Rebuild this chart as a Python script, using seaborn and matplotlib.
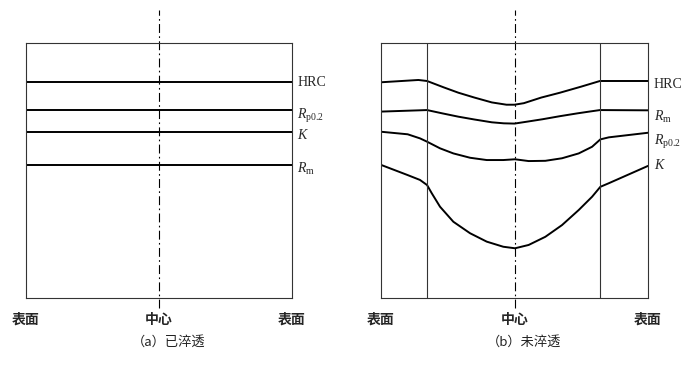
import matplotlib
matplotlib.use("Agg")
import matplotlib.pyplot as plt
import seaborn as sns
import pandas as pd

sns.set_theme(style="white")
plt.rcParams['font.family'] = ['Noto Sans CJK SC', 'DejaVu Sans']
plt.rcParams['mathtext.fontset'] = 'custom'
plt.rcParams['mathtext.rm'] = 'Liberation Serif'
plt.rcParams['mathtext.it'] = 'Liberation Serif:italic'

# ---- data ----
# (a) fully hardened: constant levels across section
left_names = ["HRC", "Rp0.2", "K", "Rm"]
left_levels = [84.7, 73.7, 65.1, 52.2]

# (b) not fully hardened
hrc_x = [-1, -0.72, -0.655, -0.53, -0.42, -0.30, -0.17, -0.06, 0, 0.07, 0.20, 0.34, 0.50, 0.64, 1]
hrc_y = [84.6, 85.5, 85.1, 82.6, 80.5, 78.6, 76.7, 75.8, 75.8, 76.4, 78.6, 80.5, 82.9, 85.1, 85.1]

rm_x = [-1, -0.655, -0.54, -0.42, -0.30, -0.17, -0.08, 0, 0.10, 0.21, 0.34, 0.47, 0.56, 0.64, 1]
rm_y = [73.1, 73.7, 72.4, 71.1, 70.0, 68.9, 68.5, 68.4, 69.2, 70.1, 71.3, 72.4, 73.1, 73.7, 73.6]

rp_x = [-1, -0.80, -0.708, -0.655, -0.558, -0.458, -0.333, -0.208, -0.084, 0.004,
        0.106, 0.231, 0.356, 0.481, 0.581, 0.643, 0.706, 1]
rp_y = [65.2, 64.2, 62.6, 61.3, 58.7, 56.7, 55.0, 54.1, 54.1, 54.4,
        53.7, 53.8, 54.8, 56.7, 59.3, 62.2, 63.0, 64.8]

k_x = [-1, -0.80, -0.708, -0.655, -0.620, -0.558, -0.458, -0.333, -0.208, -0.084, 0.004,
       0.106, 0.231, 0.356, 0.481, 0.581, 0.643, 0.706, 1]
k_y = [52.2, 48.2, 46.3, 44.3, 41.1, 35.8, 29.9, 25.4, 22.1, 20.1, 19.5,
       20.8, 24.0, 28.6, 34.5, 39.7, 43.6, 45.0, 51.8]

boundary_x = [-0.655, 0.643]

x_ticks = [-1, 0, 1]
x_labels = ["表面", "中心", "表面"]
captions = ["（a）已淬透", "（b）未淬透"]

# labels
left_label_text = ["HRC", r"$\mathit{R}_{\mathrm{p0.2}}$", r"$\mathit{K}$", r"$\mathit{R}_{\mathrm{m}}$"]
left_label_y = [84.7, 71.2, 64.0, 50.6]
right_label_text = ["HRC", r"$\mathit{R}_{\mathrm{m}}$", r"$\mathit{R}_{\mathrm{p0.2}}$", r"$\mathit{K}$"]
right_label_y = [83.7, 71.0, 61.0, 52.0]

# ---- figure ----
W, H = 6.9, 3.66
fig = plt.figure(figsize=(W, H), dpi=100)
axL = fig.add_axes([26/690, 1-298/366, 266/690, 255/366])
axR = fig.add_axes([381/690, 1-298/366, 267/690, 255/366])

lw_curve = 1.4
lw_frame = 0.8
frame_color = "#333333"

for name, lvl in zip(left_names, left_levels):
    df = pd.DataFrame({"x": [-1, 1], "y": [lvl, lvl]})
    sns.lineplot(data=df, x="x", y="y", ax=axL, color="black", lw=lw_curve, estimator=None)

for xs, ys in [(hrc_x, hrc_y), (rm_x, rm_y), (rp_x, rp_y), (k_x, k_y)]:
    df = pd.DataFrame({"x": xs, "y": ys})
    sns.lineplot(data=df, x="x", y="y", ax=axR, color="black", lw=lw_curve, estimator=None, sort=False)

for bx in boundary_x:
    axR.axvline(bx, color=frame_color, lw=lw_frame)

for ax, cap in zip([axL, axR], captions):
    ax.set_xlim(-1, 1)
    ax.set_ylim(0, 100)
    ax.set_xlabel("")
    ax.set_ylabel("")
    ax.set_xticks([])
    ax.set_yticks([])
    for s in ax.spines.values():
        s.set_visible(True)
        s.set_color(frame_color)
        s.set_linewidth(lw_frame)
    # center dash-dot line extending beyond frame
    ax.plot([0, 0], [-3.9, 112.9], color="black", lw=0.8, ls=(0, (8, 3, 1.5, 3)), clip_on=False)
    for xt, lab in zip(x_ticks, x_labels):
        ax.text(xt, -8.6, lab, ha="center", va="center", fontsize=10, fontweight="bold", clip_on=False)
    ax.text(0.07, -17.5, cap, ha="center", va="center", fontsize=9.5, clip_on=False, color="#222222")

for t, y in zip(left_label_text, left_label_y):
    axL.text(1.04, y, t, ha="left", va="center", fontsize=10, family="Liberation Serif", clip_on=False)
for t, y in zip(right_label_text, right_label_y):
    axR.text(1.045, y, t, ha="left", va="center", fontsize=10, family="Liberation Serif", clip_on=False)

fig.savefig("out.png", dpi=100)
